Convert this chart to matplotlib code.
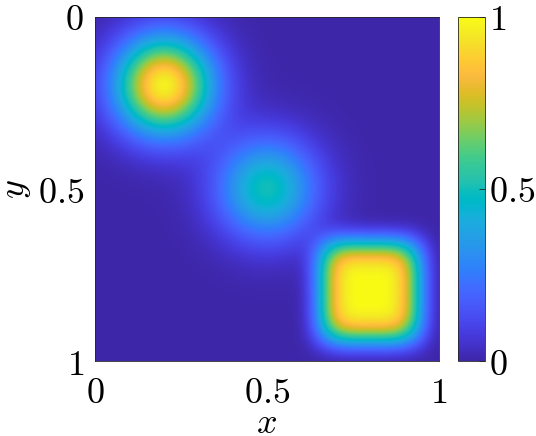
"""Three-bump scalar field on the unit square, parula-style colour map."""

import numpy as np
import matplotlib

matplotlib.use("Agg")

import matplotlib.pyplot as plt
from matplotlib.colors import LinearSegmentedColormap

# bumps: centre, peak value, half-width, shape exponent
BUMP_X = [0.2, 0.5, 0.8]
BUMP_Y = [0.2, 0.5, 0.8]
BUMP_PEAK = [0.97, 0.50, 1.00]
BUMP_WIDTH = [0.14, 0.145, 0.15]
BUMP_POWER = [2.0, 2.0, 4.0]

X_TICKS = [0, 0.5, 1]
Y_TICKS = [0, 0.5, 1]
CBAR_TICKS = [0, 0.5, 1]
TICK_LABELS = ["$0$", "$0.5$", "$1$"]

PARULA = [
    (0.2422, 0.1504, 0.6603), (0.2504, 0.1650, 0.7076), (0.2578, 0.1818, 0.7511),
    (0.2647, 0.1978, 0.7952), (0.2706, 0.2147, 0.8364), (0.2751, 0.2342, 0.8710),
    (0.2783, 0.2559, 0.8991), (0.2803, 0.2782, 0.9221), (0.2813, 0.3006, 0.9414),
    (0.2810, 0.3228, 0.9579), (0.2795, 0.3447, 0.9717), (0.2760, 0.3667, 0.9829),
    (0.2699, 0.3892, 0.9906), (0.2602, 0.4123, 0.9952), (0.2440, 0.4358, 0.9988),
    (0.2206, 0.4603, 0.9973), (0.1963, 0.4847, 0.9892), (0.1834, 0.5074, 0.9798),
    (0.1786, 0.5289, 0.9682), (0.1764, 0.5499, 0.9520), (0.1687, 0.5703, 0.9359),
    (0.1540, 0.5902, 0.9218), (0.1460, 0.6091, 0.9079), (0.1380, 0.6276, 0.8973),
    (0.1248, 0.6459, 0.8883), (0.1113, 0.6635, 0.8763), (0.0952, 0.6798, 0.8598),
    (0.0689, 0.6948, 0.8394), (0.0297, 0.7082, 0.8163), (0.0036, 0.7203, 0.7917),
    (0.0067, 0.7312, 0.7660), (0.0433, 0.7411, 0.7394), (0.0964, 0.7500, 0.7120),
    (0.1408, 0.7584, 0.6842), (0.1717, 0.7670, 0.6554), (0.1938, 0.7758, 0.6251),
    (0.2161, 0.7843, 0.5923), (0.2470, 0.7918, 0.5567), (0.2906, 0.7973, 0.5188),
    (0.3406, 0.8008, 0.4789), (0.3909, 0.8029, 0.4354), (0.4456, 0.8024, 0.3909),
    (0.5044, 0.7993, 0.3480), (0.5616, 0.7942, 0.3045), (0.6174, 0.7876, 0.2612),
    (0.6720, 0.7793, 0.2227), (0.7242, 0.7698, 0.1910), (0.7738, 0.7598, 0.1646),
    (0.8203, 0.7498, 0.1535), (0.8634, 0.7406, 0.1596), (0.9035, 0.7330, 0.1774),
    (0.9393, 0.7288, 0.2100), (0.9728, 0.7298, 0.2394), (0.9956, 0.7434, 0.2371),
    (0.9970, 0.7659, 0.2199), (0.9952, 0.7893, 0.2028), (0.9892, 0.8136, 0.1885),
    (0.9786, 0.8386, 0.1766), (0.9676, 0.8639, 0.1643), (0.9610, 0.8890, 0.1537),
    (0.9597, 0.9135, 0.1423), (0.9628, 0.9373, 0.1265), (0.9691, 0.9606, 0.1064),
    (0.9769, 0.9839, 0.0805),
]

plt.rcParams["mathtext.fontset"] = "cm"
plt.rcParams["font.family"] = "serif"
plt.rcParams["font.serif"] = ["DejaVu Serif"]

cmap = LinearSegmentedColormap.from_list("parula", PARULA, N=256)

grid = np.linspace(0.0, 1.0, 301)
gx, gy = np.meshgrid(grid, grid)
field = np.zeros_like(gx)
for cx, cy, peak, width, power in zip(BUMP_X, BUMP_Y, BUMP_PEAK, BUMP_WIDTH, BUMP_POWER):
    field += peak * np.exp(-np.abs((gx - cx) / width) ** power) * np.exp(-np.abs((gy - cy) / width) ** power)

fig = plt.figure(figsize=(5.36, 4.36), dpi=100)
ax = fig.add_axes([95 / 536, 75 / 436, 344 / 536, 344 / 436])
cax = fig.add_axes([458 / 536, 75 / 436, 27 / 536, 344 / 436])

image = ax.imshow(
    field,
    extent=(0, 1, 1, 0),
    origin="upper",
    cmap=cmap,
    vmin=0,
    vmax=1,
    aspect="auto",
    interpolation="bilinear",
)
ax.set_xlim(0, 1)
ax.set_ylim(1, 0)
ax.set_xticks(X_TICKS)
ax.set_yticks(Y_TICKS)
ax.set_xticklabels(TICK_LABELS)
ax.set_yticklabels(TICK_LABELS)
ax.tick_params(axis="x", length=0, labelsize=26, pad=11)
ax.tick_params(axis="y", length=0, labelsize=26, pad=8)
ax.set_xlabel("$x$", fontsize=26, va="top")
ax.set_ylabel("$y$", fontsize=26, va="bottom")
ax.xaxis.set_label_coords(0.5, -0.132)
ax.yaxis.set_label_coords(-0.18, 0.5)
for spine in ax.spines.values():
    spine.set_color("0.15")
    spine.set_linewidth(0.6)

cbar = fig.colorbar(image, cax=cax, ticks=CBAR_TICKS)
cbar.ax.set_yticklabels(TICK_LABELS)
cbar.ax.tick_params(direction="in", length=4, width=0.6, color="0.15", labelsize=26, pad=3)
cbar.outline.set_edgecolor("0.15")
cbar.outline.set_linewidth(0.6)

fig.savefig("out.png", dpi=100)
plt.close(fig)
